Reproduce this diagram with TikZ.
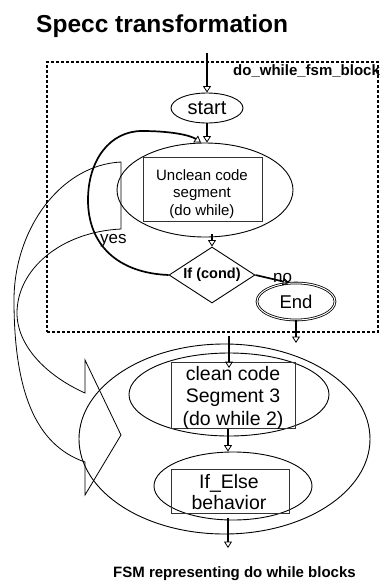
\documentclass[tikz,border=0pt]{standalone}
\usepackage{fontspec}
\setmainfont{Liberation Sans}
\usetikzlibrary{shapes.geometric,arrows.meta}
\begin{document}
\begin{tikzpicture}[x=1pt,y=-1pt,
  thinline/.style={line width=0.8pt},
  flow/.style={line width=1.7pt,-{Triangle[open,width=8pt,length=6.5pt,line width=0.8pt]}},
  ell/.style={draw,ellipse,inner sep=0pt,line width=0.9pt},
  boxnode/.style={draw=black!80,line width=1pt,inner sep=0pt},
  txt/.style={inner sep=0pt,align=center}]
\useasboundingbox (0,0) rectangle (382,584);

% title
\node[anchor=base west,inner sep=0pt,font=\fontsize{24.5}{28}\selectfont\bfseries] (title) at (36,32) {Specc transformation};

% curved block arrow on the left
\draw[thinline] (121,162) .. controls (60,165) and (14,230) .. (14,300)
  .. controls (14,390) and (35,445) .. (85,462) -- (85,495) -- (121,435) -- (85,360) -- (85,393)
  .. controls (45,375) and (17,345) .. (17,313)
  .. controls (17,270) and (60,232) .. (121,229) -- cycle;

% dashed fsm block
\node[draw,dash pattern=on 3pt off 2pt,line width=1.4pt,inner sep=0pt,minimum width=331pt,minimum height=270pt] (blk) at (212.5,197) {};
\node[anchor=base west,inner sep=0pt,font=\fontsize{15}{18}\selectfont\bfseries] (blklabel) at (233,75) {do\_while\_fsm\_block};

% start
\coordinate (in0) at (207,53);
\node[ell,minimum width=72pt,minimum height=30pt,font=\fontsize{20}{24}\selectfont] (start) at (207,108) {start};
\draw[flow] (in0) -- (start.north);

% unclean code segment
\node[ell,minimum width=176pt,minimum height=94pt] (ue) at (205,190) {};
\node[boxnode,minimum width=119pt,minimum height=64pt] (ur) at (202.5,189) {};
\node[txt,font=\fontsize{15}{17.5}\selectfont] (ut) at (202,194) {Unclean code\\segment\\(do while)};
\draw[flow] (start.south) -- (start.south |- ue.north);

% decision
\node[draw,diamond,shape aspect=1.54,inner sep=0pt,minimum width=86pt,minimum height=56pt,line width=0.9pt,font=\fontsize{14.5}{17}\selectfont\bfseries] (dia) at (212,275) {If (cond)};
\coordinate (c1) at (212,234);
\draw[flow] (c1) -- (dia.north);

% loop back (yes)
\draw[flow] (dia.west) .. controls (118,273) and (88,245) .. (88,200)
  .. controls (88,160) and (110,131) .. (142,131)
  .. controls (170,131) and (190,135) .. ([xshift=-4pt]ue.north);
\node[anchor=base west,inner sep=0pt,font=\fontsize{17}{20}\selectfont] (yes) at (100,243) {yes};

% end
\node[ell,double,double distance=1pt,line width=0.8pt,minimum width=78pt,minimum height=37pt,font=\fontsize{18.5}{22}\selectfont] (end) at (296,301.5) {End};
\draw[flow] (dia.east) -- (end.110);
\node[anchor=base west,inner sep=0pt,font=\fontsize{17}{20}\selectfont] (no) at (273,282) {no};
\coordinate (out1) at (296,343);
\draw[flow] (end.south) -- (out1);

% lower FSM
\node[ell,minimum width=291pt,minimum height=190pt] (big) at (224.5,439) {};
\node[ell,minimum width=200pt,minimum height=83pt] (ce) at (229,394.5) {};
\node[boxnode,minimum width=124pt,minimum height=66pt] (cr) at (233,395) {};
\node[txt,font=\fontsize{19.5}{22.5}\selectfont] (ct) at (233,397.5) {clean code\\Segment 3\\(do while 2)};
\coordinate (in2) at (229,336);
\coordinate (in2e) at (229,368);
\draw[flow] (in2) -- (in2e);

\node[ell,minimum width=158pt,minimum height=68pt] (ie) at (233,486) {};
\node[boxnode,minimum width=118pt,minimum height=44pt] (ir) at (230,491) {};
\node[txt,font=\fontsize{19.5}{21}\selectfont] (it) at (229,492.5) {If\_Else\\behavior};
\coordinate (a3) at (228,429);
\draw[flow] (a3) -- (a3 |- ie.north);
\coordinate (a4) at (228,518);
\coordinate (a5) at (228,548);
\draw[flow] (a4) -- (a5);

% caption
\node[anchor=base west,inner sep=0pt,font=\fontsize{15}{18}\selectfont\bfseries] (cap) at (113,577) {FSM representing do while blocks};
\end{tikzpicture}
\end{document}
